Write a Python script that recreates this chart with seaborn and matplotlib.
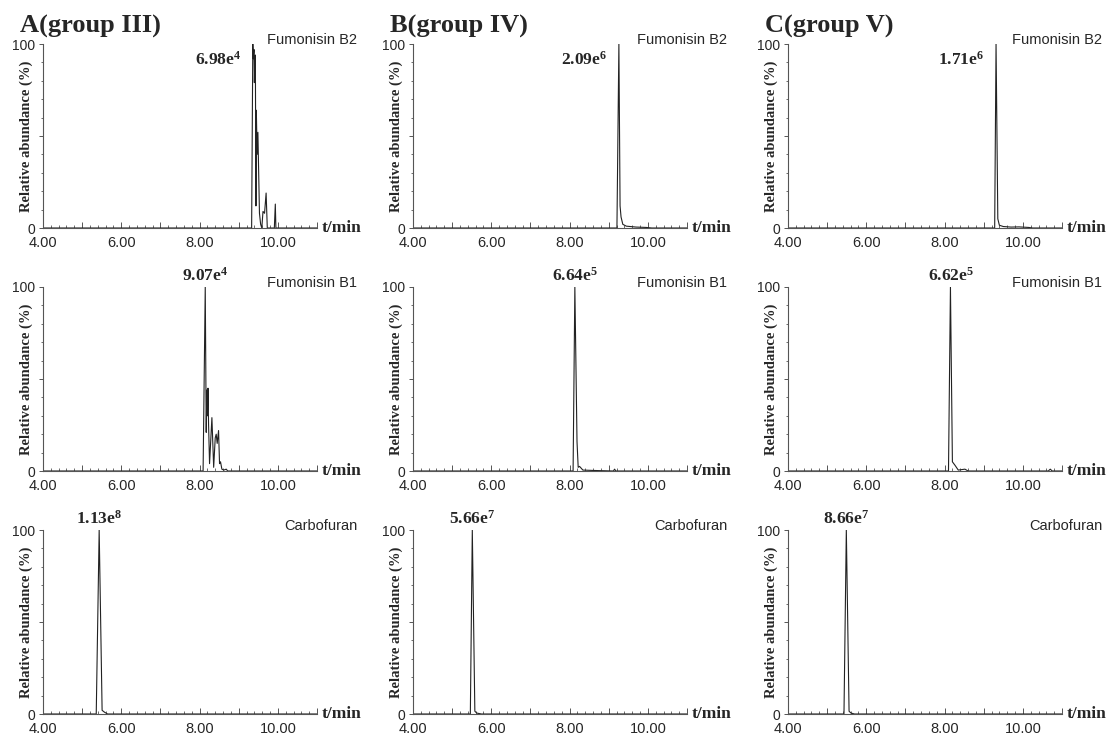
import numpy as np
import pandas as pd
import matplotlib
matplotlib.use("Agg")
import matplotlib.pyplot as plt
from matplotlib.ticker import MultipleLocator, FixedLocator, FuncFormatter
import seaborn as sns

# Панелийн гарчиг ба нэгдлүүд
groups = ["A(group III)", "B(group IV)", "C(group V)"]
compounds = ["Fumonisin B2", "Fumonisin B1", "Carbofuran"]

# Оргилын эрчим (мантисс, зэрэг)
peak_mant = [["6.98", "9.07", "1.13"],
             ["2.09", "6.64", "5.66"],
             ["1.71", "6.62", "8.66"]]
peak_exp = [["4", "4", "8"],
            ["6", "5", "7"],
            ["6", "5", "7"]]

# Хроматограмм: хугацаа (мин) ба харьцангуй эрчим (%)
a_b2_t = [4.00, 9.33, 9.36, 9.375, 9.39, 9.40, 9.41, 9.425, 9.44, 9.45, 9.47, 9.49,
          9.51, 9.53, 9.56, 9.59, 9.62, 9.66, 9.70, 9.73, 9.91, 9.935, 9.95, 11.0]
a_b2_y = [0, 0, 100, 92, 97, 79, 90, 94, 12, 64, 40, 52,
          30, 8, 2, 0, 9, 8, 19, 0, 0, 13, 0, 0]
a_b1_t = [4.00, 8.09, 8.145, 8.17, 8.185, 8.20, 8.215, 8.23, 8.255, 8.315, 8.36,
          8.40, 8.425, 8.45, 8.485, 8.51, 8.535, 8.57, 8.62, 8.68, 8.72, 11.0]
a_b1_y = [0, 0, 100, 21, 44, 30, 45, 25, 4, 29, 2,
          18, 20, 15, 22, 4, 5, 1, 0.5, 1, 0, 0]
a_cf_t = [4.00, 5.36, 5.435, 5.51, 5.57, 5.65, 11.0]
a_cf_y = [0, 0, 100, 2, 1, 0, 0]

b_b2_t = [4.00, 9.21, 9.26, 9.29, 9.315, 9.36, 9.45, 9.70, 9.96, 10.1, 11.0]
b_b2_y = [0, 0, 100, 12, 6, 2, 1, 0.5, 0.3, 0, 0]
b_b1_t = [4.00, 8.09, 8.135, 8.19, 8.22, 8.255, 8.34, 8.6, 9.12, 9.15, 9.18, 11.0]
b_b1_y = [0, 0, 100, 16, 2, 2.5, 0.5, 0.3, 0, 1, 0, 0]
b_cf_t = [4.00, 5.465, 5.515, 5.58, 5.63, 5.75, 11.0]
b_cf_y = [0, 0, 100, 1.5, 0.5, 0, 0]

c_b2_t = [4.00, 9.28, 9.315, 9.36, 9.40, 9.50, 9.70, 9.90, 10.15, 10.25, 11.0]
c_b2_y = [0, 0, 100, 5, 1.5, 0.8, 0.5, 0.6, 0.3, 0, 0]
c_b1_t = [4.00, 8.10, 8.15, 8.20, 8.27, 8.35, 8.52, 8.60, 10.65, 10.70, 10.75, 11.0]
c_b1_y = [0, 0, 100, 5, 3, 0.5, 1, 0, 0, 1, 0, 0]
c_cf_t = [4.00, 5.43, 5.49, 5.56, 5.61, 5.70, 11.0]
c_cf_y = [0, 0, 100, 1.5, 0.5, 0, 0]

traces = [[(a_b2_t, a_b2_y), (a_b1_t, a_b1_y), (a_cf_t, a_cf_y)],
          [(b_b2_t, b_b2_y), (b_b1_t, b_b1_y), (b_cf_t, b_cf_y)],
          [(c_b2_t, c_b2_y), (c_b1_t, c_b1_y), (c_cf_t, c_cf_y)]]

sns.set_style("ticks")
plt.rcParams["font.family"] = ["Liberation Sans", "DejaVu Sans"]
plt.rcParams["mathtext.fontset"] = "custom"
plt.rcParams["mathtext.rm"] = "Liberation Serif"
plt.rcParams["mathtext.bf"] = "Liberation Serif:bold"

W, H = 1107, 740
fig = plt.figure(figsize=(W / 100, H / 100), dpi=100)

col_left = [43, 413, 788]
row_top = [44, 287, 530]
ax_w, ax_h = 274, 184
serif = "Liberation Serif"


def x_fmt(v, pos):
    # зөвхөн 4, 6, 8, 10 дээр шошго
    iv = int(round(v))
    return "%.2f" % v if abs(v - iv) < 1e-6 and iv in (4, 6, 8, 10) else ""


for c in range(3):
    for r in range(3):
        left, top = col_left[c], row_top[r]
        ax = fig.add_axes([left / W, 1 - (top + ax_h) / H, ax_w / W, ax_h / H])
        tt, yy = traces[c][r]
        df = pd.DataFrame({"t": tt, "y": yy})
        sns.lineplot(data=df, x="t", y="y", ax=ax, color="#222222", linewidth=0.8,
                     estimator=None, sort=False)
        ax.set_xlim(4, 11)
        ax.set_ylim(0, 100)
        sns.despine(ax=ax)
        for s in ["left", "bottom"]:
            ax.spines[s].set_color("#555555")
            ax.spines[s].set_linewidth(0.8)

        ax.xaxis.set_major_locator(FixedLocator(np.arange(4, 12)))
        ax.xaxis.set_minor_locator(MultipleLocator(0.2))
        ax.xaxis.set_major_formatter(FuncFormatter(x_fmt))
        ax.yaxis.set_major_locator(FixedLocator([0, 50, 100]))
        ax.yaxis.set_minor_locator(MultipleLocator(10))
        ax.yaxis.set_major_formatter(FuncFormatter(lambda v, p: "" if v == 50 else "%d" % v))
        ax.tick_params(axis="x", which="major", direction="in", length=4, width=0.7,
                       color="#555555", labelsize=10.5, pad=5.5)
        ax.tick_params(axis="x", which="minor", direction="in", length=2, width=0.6,
                       color="#555555")
        ax.tick_params(axis="y", which="major", direction="out", length=3, width=0.7,
                       color="#555555", labelsize=10, pad=2.5)
        ax.tick_params(axis="y", which="minor", direction="out", length=1.8, width=0.6,
                       color="#555555")

        ax.set_xlabel("")
        ax.set_ylabel("Relative abundance (%)", fontfamily=serif, fontweight="bold",
                      fontsize=10.5)
        ax.yaxis.set_label_coords(-0.035, 0.5)

        ax.text(1.018, 0, "t/min", transform=ax.transAxes, ha="left", va="center",
                fontfamily=serif, fontweight="bold", fontsize=12.5)
        ax.text(1.146, 1.0, compounds[r], transform=ax.transAxes, ha="right",
                va="baseline", fontsize=10.5)

        # Оргилын тэмдэглэгээ
        peak_t = tt[int(np.argmax(yy))]
        label = r"$\mathbf{%s e^{%s}}$" % (peak_mant[c][r], peak_exp[c][r])
        if r == 0:
            ax.text(peak_t - 0.3, 89, label, ha="right", va="baseline", fontsize=12.5)
        else:
            ax.text(peak_t, 102, label, ha="center", va="bottom", fontsize=12.5,
                    clip_on=False)

    fig.text((col_left[c] - 23) / W, 1 - 33 / H, groups[c], ha="left", va="baseline",
             fontfamily=serif, fontweight="bold", fontsize=19)

fig.savefig("out.png", dpi=100)
